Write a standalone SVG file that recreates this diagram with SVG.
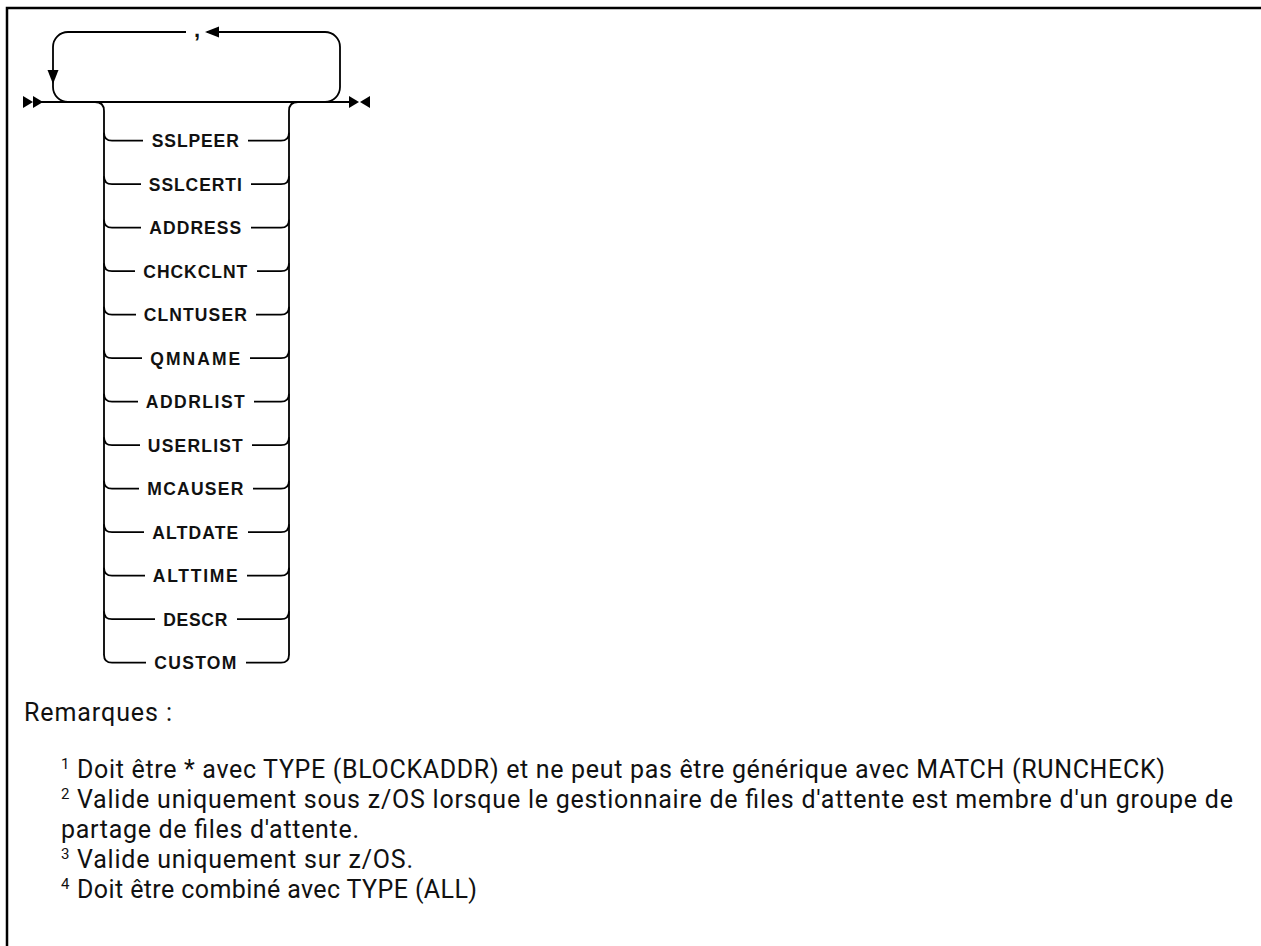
<svg xmlns="http://www.w3.org/2000/svg" width="1261" height="946" viewBox="0 0 1261 946">
<style>
.ln{fill:none;stroke:#000;stroke-width:1.8}
.ah{fill:#000;stroke:none}
.lbl{font-family:"Liberation Sans",Arial,sans-serif;font-weight:bold;font-size:17.5px;fill:#111;text-anchor:middle}
.note{font-family:Roboto,"Noto Sans",sans-serif;font-size:25px;fill:#111}
.sup{font-family:Roboto,"Noto Sans",sans-serif;font-size:15px;fill:#111}
</style>
<rect x="0" y="0" width="1261" height="946" fill="#fff"/>
<path d="M7,946 V8 H1261" fill="none" stroke="#000" stroke-width="2.5"/>
<g id="connectors">
<polygon class="ah" points="23,96 33,102 23,108"/>
<polygon class="ah" points="33,96 43,102 33,108"/>
<path class="ln" d="M40,102 H352"/>
<polygon class="ah" points="349,96 359,102 349,108"/>
<polygon class="ah" points="370,96 360,102 370,108"/>
<path class="ln" d="M325,102 A15,15 0 0 0 340,87 V47 A15,15 0 0 0 325,32 H207"/>
<path class="ln" d="M186,32 H68 A15,15 0 0 0 53,47 V87 A15,15 0 0 0 68,102"/>
<polygon class="ah" points="205,32 219,26.5 219,37.5"/>
<polygon class="ah" points="47.5,70 58.5,70 53,84"/>
<text class="lbl" x="197" y="37" style="font-size:22px">,</text>
<path class="ln" d="M95,102 Q104,102 104,111 V655"/>
<path class="ln" d="M298,102 Q289,102 289,111 V655"/>
</g>
<g id="n-sslpeer"><path class="ln" d="M104,132.7 Q104,140.7 112,140.7 H143 M248,140.7 H281 Q289,140.7 289,132.7"/><text class="lbl" x="195.3" y="147" textLength="87" lengthAdjust="spacing">SSLPEER</text></g>
<g id="n-sslcerti"><path class="ln" d="M104,176.2 Q104,184.2 112,184.2 H141 M251,184.2 H281 Q289,184.2 289,176.2"/><text class="lbl" x="195.3" y="190.5" textLength="93" lengthAdjust="spacing">SSLCERTI</text></g>
<g id="n-address"><path class="ln" d="M104,219.7 Q104,227.7 112,227.7 H141 M251,227.7 H281 Q289,227.7 289,219.7"/><text class="lbl" x="195.3" y="234" textLength="92" lengthAdjust="spacing">ADDRESS</text></g>
<g id="n-chckclnt"><path class="ln" d="M104,263.2 Q104,271.2 112,271.2 H135 M257,271.2 H281 Q289,271.2 289,263.2"/><text class="lbl" x="195.3" y="277.5" textLength="104" lengthAdjust="spacing">CHCKCLNT</text></g>
<g id="n-clntuser"><path class="ln" d="M104,306.7 Q104,314.7 112,314.7 H136 M256,314.7 H281 Q289,314.7 289,306.7"/><text class="lbl" x="195.3" y="321" textLength="103" lengthAdjust="spacing">CLNTUSER</text></g>
<g id="n-qmname"><path class="ln" d="M104,350.2 Q104,358.2 112,358.2 H142 M250,358.2 H281 Q289,358.2 289,350.2"/><text class="lbl" x="195.3" y="364.5" textLength="90" lengthAdjust="spacing">QMNAME</text></g>
<g id="n-addrlist"><path class="ln" d="M104,393.7 Q104,401.7 112,401.7 H138 M254,401.7 H281 Q289,401.7 289,393.7"/><text class="lbl" x="195.3" y="408" textLength="99" lengthAdjust="spacing">ADDRLIST</text></g>
<g id="n-userlist"><path class="ln" d="M104,437.2 Q104,445.2 112,445.2 H140 M252,445.2 H281 Q289,445.2 289,437.2"/><text class="lbl" x="195.3" y="451.5" textLength="95" lengthAdjust="spacing">USERLIST</text></g>
<g id="n-mcauser"><path class="ln" d="M104,480.7 Q104,488.7 112,488.7 H139 M253,488.7 H281 Q289,488.7 289,480.7"/><text class="lbl" x="195.3" y="495" textLength="96" lengthAdjust="spacing">MCAUSER</text></g>
<g id="n-altdate"><path class="ln" d="M104,524.2 Q104,532.2 112,532.2 H144 M248,532.2 H281 Q289,532.2 289,524.2"/><text class="lbl" x="195.3" y="538.5" textLength="86" lengthAdjust="spacing">ALTDATE</text></g>
<g id="n-alttime"><path class="ln" d="M104,567.7 Q104,575.7 112,575.7 H145 M247,575.7 H281 Q289,575.7 289,567.7"/><text class="lbl" x="195.3" y="582" textLength="85" lengthAdjust="spacing">ALTTIME</text></g>
<g id="n-descr"><path class="ln" d="M104,611.2 Q104,619.2 112,619.2 H155 M237,619.2 H281 Q289,619.2 289,611.2"/><text class="lbl" x="195.3" y="625.5" textLength="64" lengthAdjust="spacing">DESCR</text></g>
<g id="n-custom"><path class="ln" d="M104,654.7 Q104,662.7 112,662.7 H146 M246,662.7 H281 Q289,662.7 289,654.7"/><text class="lbl" x="195.3" y="669" textLength="82" lengthAdjust="spacing">CUSTOM</text></g>
<g id="notes">
<text class="note" x="24" y="721" textLength="148" lengthAdjust="spacing">Remarques :</text>
<text class="sup" x="61" y="769">1</text>
<text class="note" x="77" y="778" textLength="1088" lengthAdjust="spacing">Doit être * avec TYPE (BLOCKADDR) et ne peut pas être générique avec MATCH (RUNCHECK)</text>
<text class="sup" x="61" y="799">2</text>
<text class="note" x="77" y="808" textLength="1156" lengthAdjust="spacing">Valide uniquement sous z/OS lorsque le gestionnaire de files d'attente est membre d'un groupe de</text>
<text class="note" x="61" y="838" textLength="298" lengthAdjust="spacing">partage de files d'attente.</text>
<text class="sup" x="61" y="859">3</text>
<text class="note" x="77" y="868" textLength="336" lengthAdjust="spacing">Valide uniquement sur z/OS.</text>
<text class="sup" x="61" y="889">4</text>
<text class="note" x="77" y="898" textLength="400" lengthAdjust="spacing">Doit être combiné avec TYPE (ALL)</text>
</g>
</svg>
